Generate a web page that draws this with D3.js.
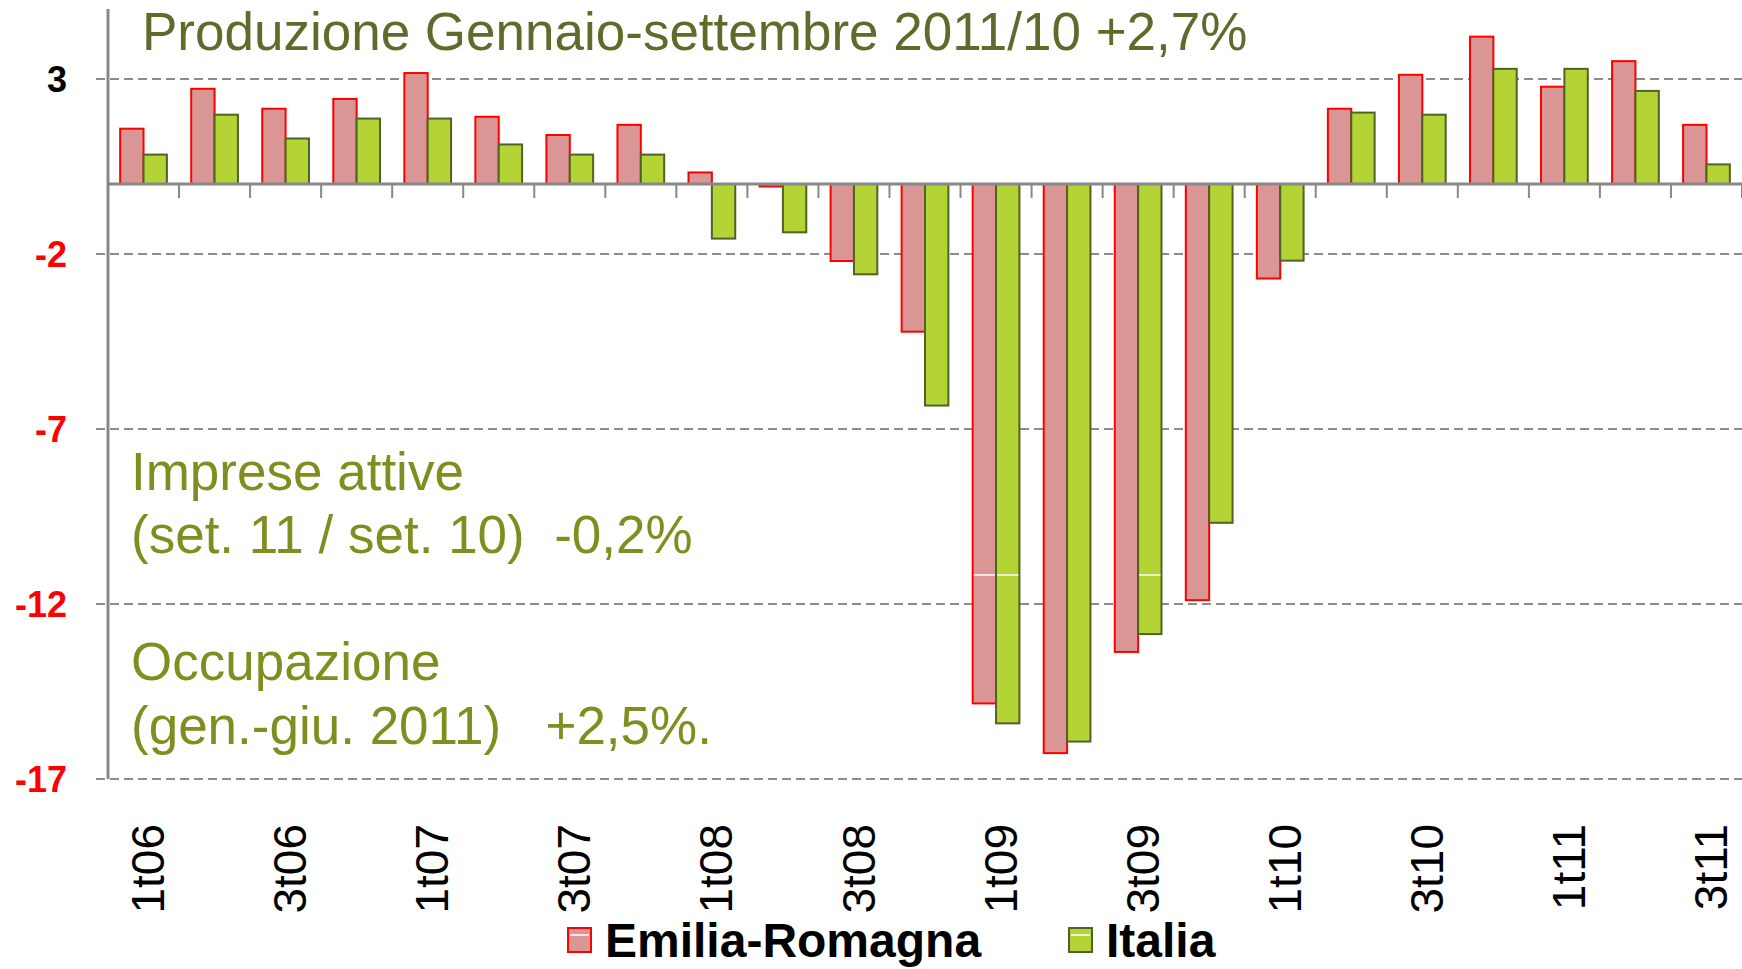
<!DOCTYPE html>
<meta charset="utf-8">
<title>Produzione Emilia-Romagna / Italia</title>
<style>
    body { margin: 0; background: #fff; }
    svg { display: block; font-family: Arial, "Liberation Sans", sans-serif; }
    .grid line { stroke: #8c8c8c; stroke-width: 2; stroke-dasharray: 9 5; }
    .note { fill: #7f8f1f; font-size: 53px; white-space: pre; }
    .title { fill: #5e6b2b; font-size: 53px; }
    .xlab { font-size: 46px; fill: #000; }
    .ylab { font-size: 36px; font-weight: bold; }
    .legend text { font-size: 48px; font-weight: bold; fill: #000; }
</style>
<svg width="1742" height="969"></svg>
<script src="https://d3js.org/d3.v7.min.js"></script>
<script>

    // data (variazioni % tendenziali della produzione industriale)
    var categories = ["1t06","2t06","3t06","4t06","1t07","2t07","3t07","4t07",
                      "1t08","2t08","3t08","4t08","1t09","2t09","3t09","4t09",
                      "1t10","2t10","3t10","4t10","1t11","2t11","3t11"];
    var emiliaRomagna = [1.58, 2.72, 2.15, 2.43, 3.17, 1.92, 1.40, 1.69,
                         0.33, -0.07, -2.20, -4.22, -14.84, -16.26, -13.37, -11.89,
                         -2.70, 2.15, 3.12, 4.21, 2.78, 3.51, 1.69];
    var italia = [0.84, 1.98, 1.30, 1.87, 1.87, 1.13, 0.84, 0.84,
                  -1.56, -1.38, -2.58, -6.33, -15.41, -15.93, -12.86, -9.68,
                  -2.19, 2.04, 1.98, 3.29, 3.29, 2.66, 0.56];
    var yTicks = [3, -2, -7, -12, -17];
    var xTickLabels = categories.filter(function(d, i) { return i % 2 === 0; });
    var seriesNames = ["Emilia-Romagna", "Italia"];

    //begin: layout conf.
    var svg = d3.select("svg"),
        width = +svg.attr("width"),
        left = 108,
        yTop = 9,
        yBottom = 779;
    //end: layout conf.

    var x0 = d3.scaleBand().domain(categories).range([left, width]).padding(0);
    var x1 = d3.scaleBand().domain(seriesNames).range([0, x0.bandwidth()])
        .paddingInner(0).paddingOuter(0.52);
    var y = d3.scaleLinear().domain([-17, 5]).range([yBottom, yTop]);

    var fills = { "Emilia-Romagna": "#d99694", "Italia": "#b4d334" },
        strokes = { "Emilia-Romagna": "#ff0000", "Italia": "#4f6228" };

    // gridlines
    svg.append("g").attr("class", "grid")
        .selectAll("line").data(yTicks).enter().append("line")
        .attr("x1", left - 12).attr("x2", width)
        .attr("y1", function(d) { return y(d); })
        .attr("y2", function(d) { return y(d); });

    // y labels
    svg.append("g").selectAll("text").data(yTicks).enter().append("text")
        .attr("class", "ylab")
        .attr("x", 67)
        .attr("y", function(d) { return y(d); })
        .attr("dy", "0.36em")
        .attr("text-anchor", "end")
        .attr("fill", function(d) { return d > 0 ? "#000" : "#ff0000"; })
        .text(function(d) { return d; });

    // bars
    var rows = categories.map(function(c, i) {
        return [
            { cat: c, name: "Emilia-Romagna", value: emiliaRomagna[i] },
            { cat: c, name: "Italia", value: italia[i] }
        ];
    });

    var groups = svg.append("g").selectAll("g").data(rows).enter().append("g")
        .attr("transform", function(d) { return "translate(" + x0(d[0].cat) + ",0)"; });

    groups.selectAll("rect").data(function(d) { return d; }).enter().append("rect")
        .attr("x", function(d) { return x1(d.name); })
        .attr("width", x1.bandwidth())
        .attr("y", function(d) { return y(Math.max(0, d.value)); })
        .attr("height", function(d) { return Math.abs(y(d.value) - y(0)); })
        .attr("fill", function(d) { return fills[d.name]; })
        .attr("stroke", function(d) { return strokes[d.name]; })
        .attr("stroke-width", 2);

    // little white seams seen in the deep bars
    var seams = [["1t09", "Emilia-Romagna"], ["1t09", "Italia"], ["3t09", "Italia"]];
    svg.append("g").selectAll("line").data(seams).enter().append("line")
        .attr("x1", function(d) { return x0(d[0]) + x1(d[1]) + 1; })
        .attr("x2", function(d) { return x0(d[0]) + x1(d[1]) + x1.bandwidth() - 1; })
        .attr("y1", y(-11.17)).attr("y2", y(-11.17))
        .attr("stroke", "#fff").attr("stroke-width", 1.5);

    // axes
    svg.append("line")
        .attr("x1", left).attr("x2", left)
        .attr("y1", yTop).attr("y2", yBottom)
        .attr("stroke", "#888").attr("stroke-width", 3);

    svg.append("line")
        .attr("x1", left).attr("x2", width)
        .attr("y1", y(0)).attr("y2", y(0))
        .attr("stroke", "#888").attr("stroke-width", 3);

    svg.append("g").selectAll("line").data(categories).enter().append("line")
        .attr("x1", function(d) { return x0(d) + x0.bandwidth(); })
        .attr("x2", function(d) { return x0(d) + x0.bandwidth(); })
        .attr("y1", y(0)).attr("y2", y(0) + 14)
        .attr("stroke", "#888").attr("stroke-width", 2);

    // x labels (rotated)
    svg.append("g").selectAll("text").data(xTickLabels).enter().append("text")
        .attr("class", "xlab")
        .attr("transform", function(d) {
            return "translate(" + (x0(d) + x0.bandwidth() / 2 + 4) + ",824) rotate(-90)";
        })
        .attr("dy", "0.36em")
        .attr("text-anchor", "end")
        .text(function(d) { return d; });

    // texts
    svg.append("text").attr("class", "title")
        .attr("x", 142).attr("y", 50)
        .text("Produzione Gennaio-settembre 2011/10 +2,7%");

    var notes = [
        "Imprese attive",
        "(set. 11 / set. 10)  -0,2%",
        "Occupazione",
        "(gen.-giu. 2011)   +2,5%."
    ];
    var noteY = [490, 553, 680, 744];
    svg.append("g").selectAll("text").data(notes).enter().append("text")
        .attr("class", "note")
        .attr("x", 131)
        .attr("y", function(d, i) { return noteY[i]; })
        .text(function(d) { return d; });

    // legend
    var legend = svg.append("g").attr("class", "legend");
    var legendX = [568, 1069];
    var lg = legend.selectAll("g").data(seriesNames).enter().append("g")
        .attr("transform", function(d, i) { return "translate(" + legendX[i] + ",928)"; });
    lg.append("rect")
        .attr("width", 23).attr("height", 24)
        .attr("fill", function(d) { return fills[d]; })
        .attr("stroke", function(d) { return strokes[d]; })
        .attr("stroke-width", 2);
    lg.append("line")
        .attr("x1", 2).attr("x2", 21).attr("y1", 7).attr("y2", 7)
        .attr("stroke", "#fff").attr("stroke-width", 1.5);
    lg.append("text")
        .attr("x", 37).attr("y", 957)
        .attr("transform", "translate(0,-928)")
        .text(function(d) { return d; });

</script>
